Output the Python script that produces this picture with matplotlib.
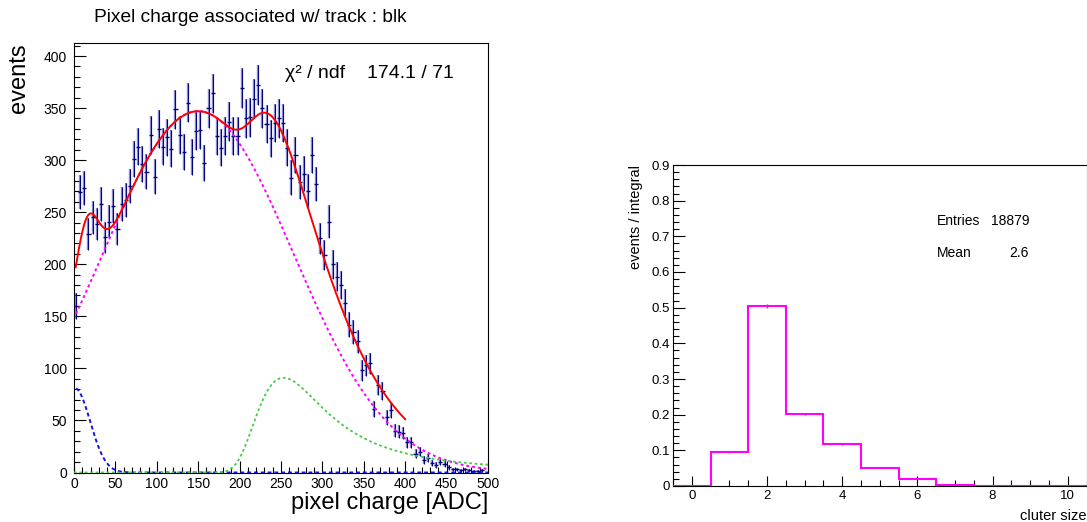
import numpy as np
import matplotlib
matplotlib.use("Agg")
import matplotlib.pyplot as plt
from matplotlib.ticker import MultipleLocator

plt.rcParams['font.family'] = ['Liberation Sans', 'DejaVu Sans']

# ---------------- data: pixel charge histogram (5 ADC bins) ----------------
bin_width = 5.0
charge_counts = [
    160, 269, 273, 229, 245, 239, 258, 226, 241, 256,
    234, 258, 262, 275, 301, 313, 296, 289, 324, 284,
    330, 313, 322, 311, 349, 324, 308, 355, 303, 328,
    329, 297, 350, 364, 323, 312, 323, 337, 323, 323,
    369, 340, 341, 359, 372, 350, 335, 321, 336, 340,
    336, 312, 283, 305, 279, 287, 270, 305, 277, 225,
    209, 241, 200, 188, 180, 163, 142, 135, 126, 98,
    103, 105, 61, 84, 78, 53, 60, 40, 39, 38,
    29, 29, 18, 20, 12, 14, 9, 7, 10, 8,
    5, 3, 3, 2, 3, 2, 1, 1, 2, 0,
]

# fit components (parameters)
broad_amp, broad_mean, broad_sigma = 347.0, 150.0, 115.0      # magenta gaussian
low_amp, low_mean, low_sigma = 70.0, 15.0, 14.0                # low-charge bump in total fit
noise_amp, noise_mean, noise_sigma = 81.0, 1.0, 18.5           # blue gaussian
landau_peak, landau_mpv, landau_sigma = 91.0, 259.0, 27.0      # green landau
fit_range = (2.0, 400.0)
chi2_text = "174.1 / 71"

# ---------------- data: cluster size ----------------
cluster_sizes = [0, 1, 2, 3, 4, 5, 6, 7, 8, 9, 10]
cluster_frac = [0.0, 0.096, 0.5046, 0.2027, 0.1186, 0.0514, 0.0206, 0.003, 0.0005, 0.0, 0.0]
entries = 18879
mean_size = "2.6"


def gauss(x, a, m, s):
    return a * np.exp(-0.5 * ((x - m) / s) ** 2)


def landau_density(lam):
    t = np.linspace(1e-9, 40, 40000)
    lt = t * np.log(t)
    out = np.empty_like(lam)
    for i, l in enumerate(lam):
        f = np.exp(-lt - l * t) * np.sin(np.pi * t)
        out[i] = np.trapezoid(f, t) / np.pi
    return out


def landau(x, peak, mpv, sigma):
    lam = (x - mpv) / sigma
    dens = np.where(lam < -4.5, 0.0, landau_density(np.clip(lam, -4.5, None)))
    lgrid = np.linspace(-1.5, 1.0, 400)
    pmax = landau_density(lgrid).max()
    return peak * np.clip(dens, 0, None) / pmax


fig = plt.figure(figsize=(10.87, 5.22), dpi=100)

# ================= left panel =================
ax = fig.add_axes([74 / 1087, 1 - 472.5 / 522, 414 / 1087, 429.5 / 522])
counts = np.array(charge_counts, dtype=float)
centers = bin_width / 2 + bin_width * np.arange(len(counts))
errs = np.sqrt(counts)
nz = counts > 0
ax.vlines(centers[nz], counts[nz] - errs[nz], counts[nz] + errs[nz],
          color='#5050bb', lw=1.7, alpha=0.7, zorder=3)
ax.vlines(centers[nz], counts[nz] - errs[nz], counts[nz] + errs[nz],
          color='#00007a', lw=0.7, zorder=4)
ax.hlines(counts[nz], centers[nz] - bin_width / 2, centers[nz] + bin_width / 2,
          color='#00007a', lw=1.0, zorder=4)

x_all = np.linspace(2.5, 500, 800)
ax.plot(x_all, gauss(x_all, broad_amp, broad_mean, broad_sigma), color='#ff00ff',
        lw=1.4, ls=(0, (1.5, 1.5)), zorder=5)
ax.plot(x_all, gauss(x_all, noise_amp, noise_mean, noise_sigma), color='#1414e6',
        lw=1.4, ls=(0, (2, 1.5)), zorder=5)
x_full = np.linspace(0, 500, 800)
ax.plot(x_full, landau(x_full, landau_peak, landau_mpv, landau_sigma), color='#44cc44',
        lw=1.3, ls=(0, (1.5, 1.5)), zorder=5)
x_fit = np.linspace(fit_range[0], fit_range[1], 800)
total = (gauss(x_fit, broad_amp, broad_mean, broad_sigma)
         + gauss(x_fit, low_amp, low_mean, low_sigma)
         + landau(x_fit, landau_peak, landau_mpv, landau_sigma))
ax.plot(x_fit, total, color='#ff0000', lw=1.4, zorder=6)

ax.set_xlim(0, 500)
ax.set_ylim(0, 412.5)
ax.xaxis.set_major_locator(MultipleLocator(50))
ax.xaxis.set_minor_locator(MultipleLocator(10))
ax.yaxis.set_major_locator(MultipleLocator(50))
ax.yaxis.set_minor_locator(MultipleLocator(10))
ax.tick_params(which='both', direction='in', top=False, right=False, labelsize=10)
ax.tick_params(which='major', length=8.6, width=0.8)
ax.tick_params(which='minor', length=4.6, width=0.8)
ax.tick_params(axis='y', pad=5)
ax.tick_params(axis='x', pad=3)
for s in ax.spines.values():
    s.set_linewidth(0.8)
ax.set_xlabel('pixel charge [ADC]', fontsize=17, loc='right', labelpad=1)
ax.set_ylabel('events', fontsize=17, loc='top', labelpad=10)
fig.text(250 / 1087, 1 - 17 / 522, 'Pixel charge associated w/ track : blk',
         fontsize=13.8, ha='center', va='center')
fig.text(285 / 1087, 1 - 73 / 522, 'χ² / ndf', fontsize=14, ha='left', va='center')
fig.text(454 / 1087, 1 - 73 / 522, chi2_text, fontsize=14, ha='right', va='center')

# ================= right panel =================
ax2 = fig.add_axes([673 / 1087, 1 - 486 / 522, 413.5 / 1087, 321 / 522])
frac = np.array(cluster_frac)
sizes = np.array(cluster_sizes, dtype=float)
edges = np.append(sizes - 0.5, sizes[-1] + 0.5)
ax2.stairs(frac, edges, color='#ff00ff', lw=1.5, zorder=3)
ferr = np.sqrt(frac * entries) / entries
ax2.vlines(sizes, frac - ferr, frac + ferr, color='#ff00ff', lw=1.0, zorder=3)
ax2.set_xlim(-0.5, 10.5)
ax2.set_ylim(0, 0.9)
ax2.xaxis.set_major_locator(MultipleLocator(2))
ax2.xaxis.set_minor_locator(MultipleLocator(0.5))
ax2.yaxis.set_minor_locator(MultipleLocator(0.02))
ax2.set_yticks(np.round(np.arange(0, 0.91, 0.1), 1))
ax2.set_yticklabels(['0'] + ['%.1f' % v for v in np.arange(0.1, 0.91, 0.1)])
ax2.tick_params(which='both', direction='in', top=False, right=False, labelsize=9.5)
ax2.tick_params(which='major', length=8.6, width=0.8)
ax2.tick_params(which='minor', length=4.3, width=0.8)
ax2.tick_params(axis='x', which='major', length=7.2)
ax2.tick_params(axis='y', pad=2)
ax2.tick_params(axis='x', pad=3)
for s in ax2.spines.values():
    s.set_linewidth(0.8)
ax2.set_xlabel('cluter size', fontsize=10.5, loc='right', labelpad=5)
ax2.set_ylabel('events / integral', fontsize=10.5, loc='top', labelpad=6)
fig.text(937 / 1087, 1 - 221 / 522, 'Entries', fontsize=10, ha='left', va='center')
fig.text(1029 / 1087, 1 - 221 / 522, str(entries), fontsize=10, ha='right', va='center')
fig.text(937 / 1087, 1 - 253 / 522, 'Mean', fontsize=10, ha='left', va='center')
fig.text(1029 / 1087, 1 - 253 / 522, mean_size, fontsize=10, ha='right', va='center')

fig.savefig('out.png', dpi=100)
